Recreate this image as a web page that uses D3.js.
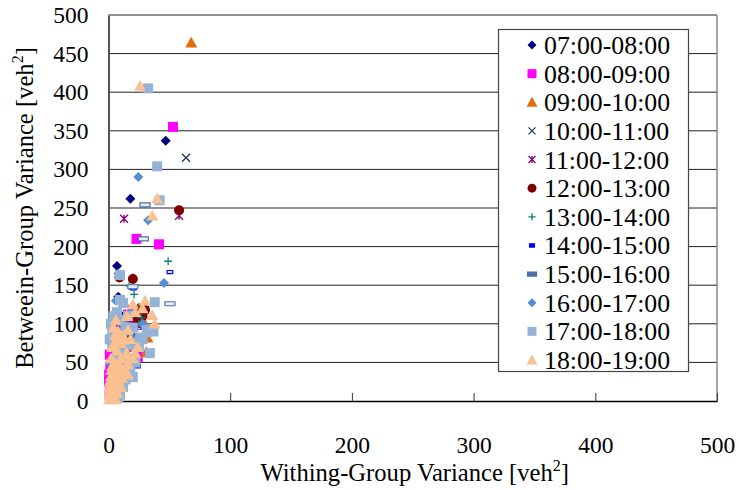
<!DOCTYPE html>
<html lang="en">
<head>
<meta charset="UTF-8">
<title>Variance scatter</title>
<script src="https://d3js.org/d3.v7.min.js"></script>
<style>
  body { margin: 0; background: #fff; }
  text { font-family: "Liberation Serif", "Times New Roman", Tinos, serif; fill: #000; }
</style>
</head>
<body>
<div id="wrapper"></div>
<script>
// axis ticks
const xTicks = [0, 100, 200, 300, 400, 500];
const yTicks = [0, 50, 100, 150, 200, 250, 300, 350, 400, 450, 500];

// series names (legend)
const seriesNames = ["07:00-08:00", "08:00-09:00", "09:00-10:00", "10:00-11:00",
  "11:00-12:00", "12:00-13:00", "13:00-14:00", "14:00-15:00", "15:00-16:00",
  "16:00-17:00", "17:00-18:00", "18:00-19:00"];

// [within-group variance, between-group variance]
const s0708 = [[47,337],[18,262],[7,175],[20,159],[8,135],[3.7,60],[5,90],[2,40],[12,110],[15,95],[1,20],[4,50],[22,115],[10,75],[6,100],[25,120],[3,30],[9,45]];
const s0809 = [[53,355],[23,210],[41.5,203],[5,75],[8,60],[12,85],[18,100],[3,40],[20,118],[6,95],[15,70],[2,20],[10,50],[25,105],[4,30],[22,80],[1,10],[24,57],[16,112],[1.5,45],[16,85],[4,76],[0.5,34],[23,101],[1,60],[0.5,25],[14,92]];
const s0910 = [[68,464],[32,82],[31,63],[25,120],[28,105],[20,90],[8,45],[14,70],[4,25],[30,84]];
const s1011 = [[63.7,315],[22,102],[14,90],[9,80],[5,55],[18,110],[27,120],[2,30],[12,65],[17,95]];
const s1112 = [[12.8,236],[58,240],[24,98],[20,88],[12,75],[6,60],[18,105],[3,35],[30,118],[16,95],[21,92]];
const s1213 = [[58,247],[20,158],[9,160],[26,115],[28,110],[24,105],[15,85],[5,50],[10,65],[30,118],[27,112]];
const s1314 = [[49,181],[21,138],[17,149],[27,108],[12,95],[8,70],[19,85],[4,40],[25,100],[2,20]];
const s1415 = [[50.5,167],[20.5,146],[23.7,45],[12,110],[6,80],[15,60],[3,30],[9,50]];
const s1516 = [[30,254],[28.6,210],[50.5,126],[20,148],[12,100],[8,55],[4,35],[16,75],[24,90]];
const s1617 = [[24.5,290],[32.5,234],[45.6,153],[8,165],[6,130],[15,95],[20,80],[3,50],[10,70],[12,40],[28,100],[5,20],[18,115],[2,10],[22,60],[26,79],[1.2,49],[5,40],[3,28],[14,88]];
const s1718 = [[32.5,405],[40,304],[42,260],[9.5,163],[9.5,131],[38,128],[34,62],[31.6,89],[37,90],[12,127],[2,100],[5,85],[3,70],[14,95],[18,75],[8,50],[10,40],[6,30],[12,60],[4,20],[2,12],[22,50],[25,70],[16,110],[7,115],[1,5],[20,95],[11,25],[28,80],[31.6,92],[19,73],[26,82],[20,31],[12,18],[9.5,8],[14,28],[6,15],[8,4],[11,45],[16,55],[3,90],[1,80],[13,70],[7,60],[18,40],[4,110],[9,105]];
const s1819 = [[26,408],[40,262],[36,240],[36,111],[30,130],[28,120],[38,100],[22,115],[20,125],[15,110],[6,105],[4,95],[8,90],[12,85],[18,80],[10,75],[3,70],[7,65],[14,60],[20,55],[5,50],[9,45],[2,40],[6,35],[11,30],[4,25],[8,20],[2,15],[5,12],[1,8],[3,5],[0.5,2],[7,10],[10,18],[12,38],[16,48],[2,28],[1,18],[4,8],[24,70],[16,92],[5.3,85],[12,79],[5,70],[15,62],[22,62],[8,49],[15,47],[9.5,36],[16,34],[4,23],[7,12],[1.5,5],[3,18],[6,2],[2,32],[8,28],[1,12],[3,45],[5,28],[10,55],[6,15],[3,10],[1,25],[9,22],[13,40],[2,55],[6,78]];

const seriesData = [s0708, s0809, s0910, s1011, s1112, s1213, s1314, s1415, s1516, s1617, s1718, s1819];

// marker style per series
const markerShape = ["diamond", "square", "triangle", "times", "asterisk", "circle",
  "plus", "dash", "hollowdash", "diamond", "square", "triangle"];
const markerColor = ["#000080", "#FF00FF", "#E46C0A", "#1F3864", "#800080", "#800000",
  "#008080", "#0000FF", "#4A71A8", "#558ED5", "#95B3D7", "#FAC090"];

const width = 739, height = 490;
const margin = {top: 15, right: 22, bottom: 89, left: 108.5};

const svg = d3.select("#wrapper")
  .append("svg")
    .attr("width", width)
    .attr("height", height);

const x = d3.scaleLinear().domain([0, 500]).range([margin.left, width - margin.right]);
const y = d3.scaleLinear().domain([0, 500]).range([height - margin.bottom, margin.top]);

// gridlines
svg.append("g")
  .selectAll("line")
  .data(yTicks.filter(d => d > 0))
  .join("line")
    .attr("x1", x(0)).attr("x2", x(500))
    .attr("y1", d => y(d)).attr("y2", d => y(d))
    .attr("stroke", "#222").attr("stroke-width", 1);

// plot frame (right side)
svg.append("line")
  .attr("x1", x(500)).attr("x2", x(500))
  .attr("y1", y(0)).attr("y2", y(500))
  .attr("stroke", "#777").attr("stroke-width", 1.3);

// x axis with inside ticks
svg.append("g")
  .attr("transform", `translate(0,${y(0)})`)
  .call(d3.axisBottom(x).tickValues(xTicks).tickSize(-8).tickPadding(35).tickSizeOuter(0))
  .call(g => g.select(".domain").attr("stroke", "#000").attr("stroke-width", 1.5))
  .call(g => g.selectAll(".tick line").attr("stroke", "#333"))
  .call(g => g.selectAll("text").style("font-family", "Liberation Serif").attr("font-size", 23.5));

// y axis
svg.append("g")
  .attr("transform", `translate(${x(0)},0)`)
  .call(d3.axisLeft(y).tickValues(yTicks).tickSize(0).tickPadding(20))
  .call(g => g.select(".domain").attr("stroke", "#555").attr("stroke-width", 2))
  .call(g => g.selectAll("text").style("font-family", "Liberation Serif").attr("font-size", 23.5));

// marker path, centred on 0,0
function marker(shape, s) {
  const h = s / 2;
  switch (shape) {
    case "diamond": return `M0,${-h}L${h},0L0,${h}L${-h},0Z`;
    case "square": return `M${-h},${-h}H${h}V${h}H${-h}Z`;
    case "triangle": return `M0,${-h}L${h},${h * 0.8}L${-h},${h * 0.8}Z`;
    case "circle": return `M${h},0A${h},${h} 0 1,1 ${-h},0A${h},${h} 0 1,1 ${h},0Z`;
    case "times": return `M${-h},${-h}L${h},${h}M${-h},${h}L${h},${-h}`;
    case "plus": return `M${-h},0H${h}M0,${-h}V${h}`;
    case "asterisk": return `M${-h},${-h}L${h},${h}M${-h},${h}L${h},${-h}M0,${-h}V${h}`;
    case "dash": return `M${-h * 0.7},-1.6H${h * 0.7}V1.6H${-h * 0.7}Z`;
    case "hollowdash": return `M${-h},-2H${h}V2H${-h}Z`;
  }
}
const markerSize = {diamond: 10, square: 10, triangle: 12, circle: 10, times: 8, plus: 8, asterisk: 8, dash: 8, hollowdash: 10};
const lineShapes = ["times", "plus", "asterisk"];

function styleMarker(sel, i) {
  const shape = markerShape[i], c = markerColor[i];
  if (lineShapes.includes(shape)) {
    sel.attr("fill", "none").attr("stroke", c).attr("stroke-width", 1.3);
  } else if (shape === "hollowdash") {
    sel.attr("fill", "#E8EEF7").attr("stroke", c).attr("stroke-width", 1.2);
  } else if (shape === "dash") {
    sel.attr("fill", "#E0E6FF").attr("stroke", c).attr("stroke-width", 1.2);
  } else {
    sel.attr("fill", c).attr("stroke", "none");
  }
}

// points
seriesData.forEach((pts, i) => {
  const shape = markerShape[i];
  svg.append("g")
    .selectAll("path")
    .data(pts)
    .join("path")
      .attr("transform", d => `translate(${x(d[0])},${y(d[1])})`)
      .attr("d", marker(shape, markerSize[shape]))
      .call(sel => styleMarker(sel, i));
});

// legend
const legend = svg.append("g");
legend.append("rect")
  .attr("x", 498.5).attr("y", 29.5).attr("width", 190).attr("height", 342)
  .attr("fill", "#fff").attr("stroke", "#444").attr("stroke-width", 1.2);

const legendRow = d3.scalePoint().domain(seriesNames).range([45, 360]);
seriesNames.forEach((name, i) => {
  const shape = markerShape[i];
  const item = legend.append("g").attr("transform", `translate(0,${legendRow(name)})`);
  item.append("path")
    .attr("transform", "translate(532,0)")
    .attr("d", marker(shape, markerSize[shape] - 1))
    .call(sel => styleMarker(sel, i));
  if (shape === "dash" || shape === "hollowdash") {
    item.select("path").attr("fill", markerColor[i]);
  }
  item.append("text")
    .attr("x", 544).attr("y", 0).attr("dy", "0.35em")
    .attr("font-size", 25.8)
    .text(name);
});

// axis titles
const xTitle = svg.append("text")
  .attr("x", (x(0) + x(500)) / 2 + 2).attr("y", 481)
  .attr("text-anchor", "middle").attr("font-size", 24.6);
xTitle.append("tspan").text("Withing-Group Variance [veh");
xTitle.append("tspan").attr("font-size", 16).attr("dy", -10).text("2");
xTitle.append("tspan").attr("dy", 10).text("]");

const yTitle = svg.append("text")
  .attr("transform", `translate(33,${(y(0) + y(500)) / 2}) rotate(-90)`)
  .attr("text-anchor", "middle").attr("font-size", 24.6);
yTitle.append("tspan").text("Betweein-Group Variance [veh");
yTitle.append("tspan").attr("font-size", 16).attr("dy", -10).text("2");
yTitle.append("tspan").attr("dy", 10).text("]");
</script>
</body>
</html>
